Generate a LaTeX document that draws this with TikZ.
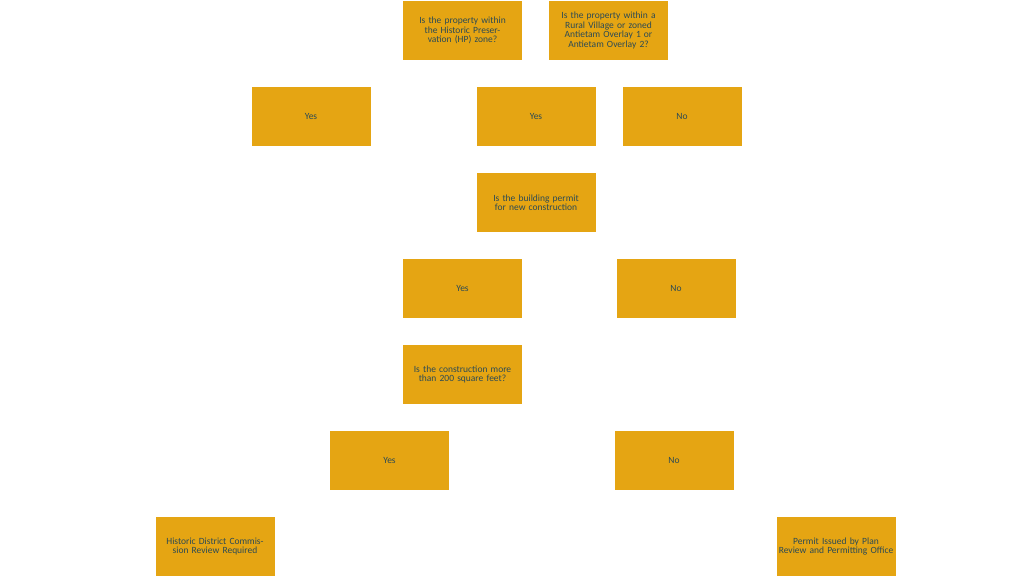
\documentclass[tikz,border=0pt]{standalone}
\usepackage{fontspec}
\setmainfont{Carlito}
\begin{document}
\begin{tikzpicture}[x=1pt,y=-1pt,
  box/.style={fill=boxc,draw=none,minimum width=119pt,minimum height=59pt,inner sep=1pt,
    text width=117pt,align=center,font=\fontsize{9.5}{9.5}\selectfont,text=txtc}]
\definecolor{boxc}{HTML}{E5A513}
\definecolor{txtc}{HTML}{2B4A55}
\useasboundingbox[fill=white] (0,0) rectangle (1024,577);
\node[box] (q1) at (462.5,30.5) {Is the property within the Historic Preservation (HP) zone?};
\node[box] (q2) at (608.5,30.5) {Is the property within a Rural Village or zoned Antietam Overlay 1 or Antietam Overlay 2?};
\node[box] (y1) at (311,116.5) {Yes};
\node[box] (y2) at (536,116.5) {Yes};
\node[box] (n1) at (682,116.5) {No};
\node[box] (q3) at (536,202.5) {Is the building permit for new construction};
\node[box] (y3) at (462.5,288.5) {Yes};
\node[box] (n2) at (676,288.5) {No};
\node[box] (q4) at (462.5,374.5) {Is the construction more than 200 square feet?};
\node[box] (y4) at (389.5,460.5) {Yes};
\node[box] (n3) at (674,460.5) {No};
\node[box] (r1) at (215,546.5) {Historic District Commission Review Required};
\node[box] (r2) at (836,546.5) {Permit Issued by Plan Review and Permitting Office};
\end{tikzpicture}
\end{document}
